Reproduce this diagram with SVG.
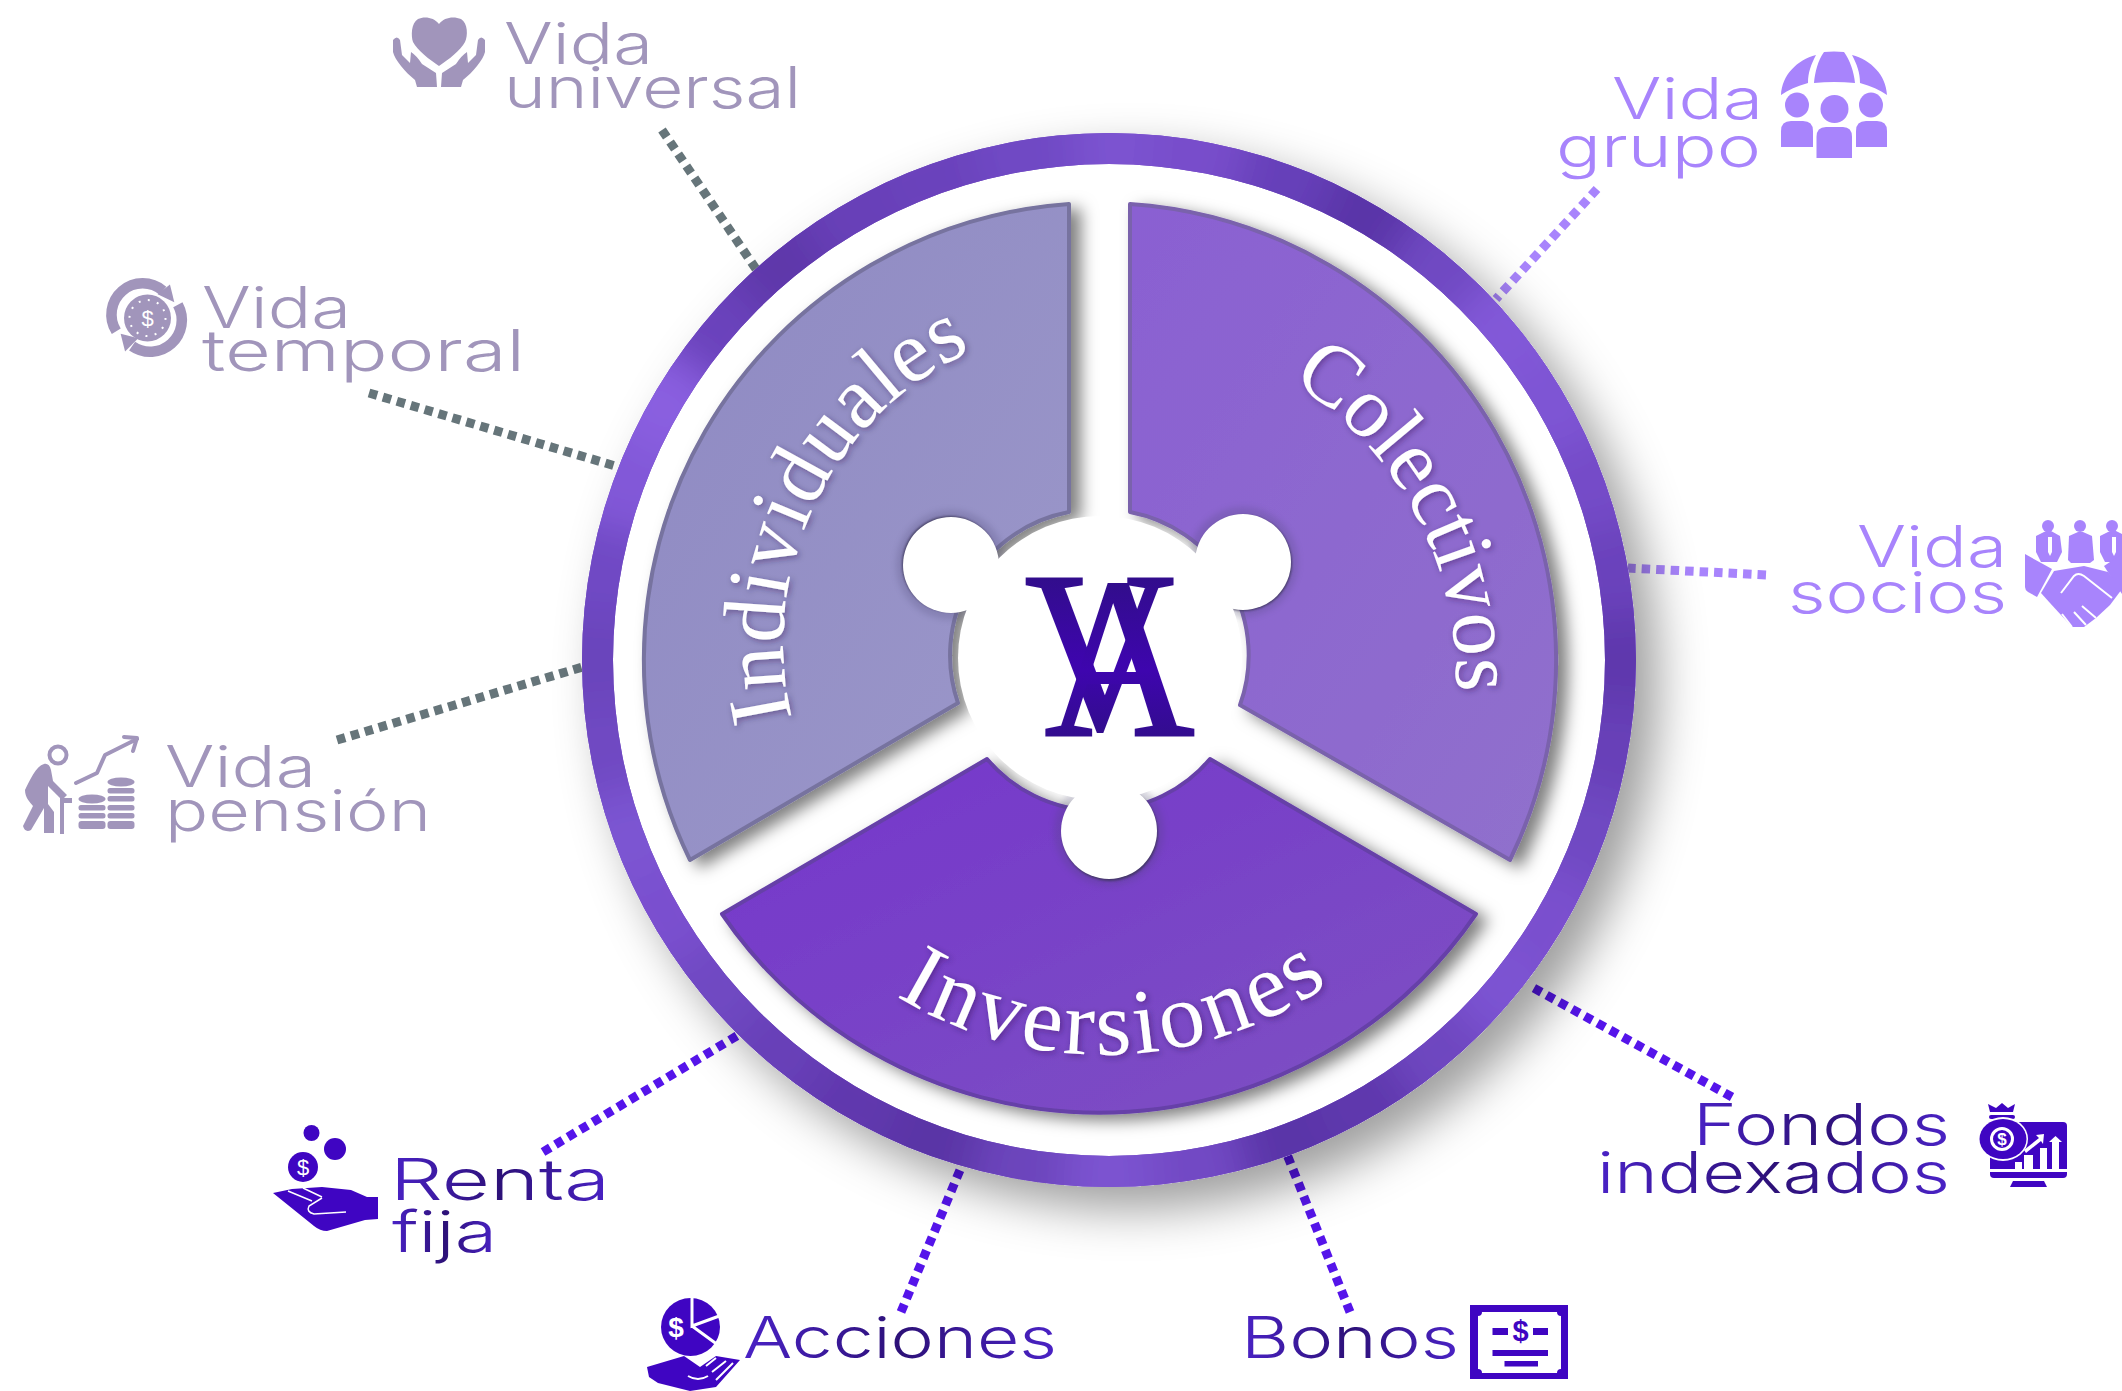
<svg xmlns="http://www.w3.org/2000/svg" xmlns:xlink="http://www.w3.org/1999/xlink" width="2122" height="1391" viewBox="0 0 2122 1391">
<style>
.lbl{font-family:"Inter","Liberation Sans",sans-serif;font-weight:300;font-size:57px}
.g1{fill:#a195bb}.g2{fill:#a884fc}.g3{fill:url(#tg)}
.i1{fill:#a195bb}.i2{fill:#a884fc}.i3{fill:#3f05c2}
.con{fill:none;stroke-width:9;stroke-dasharray:8.500 6}
.seg-t{font-family:"Liberation Serif",serif;font-size:88px;fill:#fff;filter:url(#ts)}
.sym{font-family:"Liberation Sans",sans-serif;fill:#fff;text-anchor:middle}
.w{fill:#fff}
.wl{fill:none;stroke:#fff}
.hole{fill:#fff}
.halo{fill:#4a4470;opacity:.22;filter:url(#b3)}
.edge{fill:#3a3656;opacity:.8;filter:url(#b1)}
.va{font-family:"Liberation Serif",serif;font-size:228px;text-anchor:middle;fill:url(#vag);stroke:url(#vag);stroke-width:2}
</style>
<defs>
<linearGradient id="tg"><stop offset="0" stop-color="#4a22c6"/><stop offset=".5" stop-color="#2d1178"/><stop offset="1" stop-color="#4a22c6"/></linearGradient>
<linearGradient id="vag" x1="0" y1="0" x2="0" y2="1"><stop offset="0" stop-color="#2a1278"/><stop offset=".55" stop-color="#3e05ae"/><stop offset="1" stop-color="#2a1278"/></linearGradient>
<linearGradient id="s1" x1="0" y1="0" x2="1" y2="1"><stop offset="0" stop-color="#8e89c2"/><stop offset="1" stop-color="#9c98ca"/></linearGradient>
<linearGradient id="s2" x1="0" y1="0" x2="1" y2="1"><stop offset="0" stop-color="#8a60d2"/><stop offset="1" stop-color="#9070cc"/></linearGradient>
<linearGradient id="s3" x1="0" y1="0" x2="1" y2="1"><stop offset="0" stop-color="#7535cc"/><stop offset="1" stop-color="#7d52c2"/></linearGradient>
<filter id="ds" filterUnits="userSpaceOnUse" x="400" y="0" width="1722" height="1391"><feDropShadow dx="22" dy="22" stdDeviation="24" flood-color="#000" flood-opacity=".38"/></filter>
<filter id="ss" filterUnits="userSpaceOnUse" x="500" y="100" width="1200" height="1100"><feDropShadow dx="10" dy="6" stdDeviation="8" flood-color="#000" flood-opacity=".5"/></filter>
<filter id="ts" x="-10%" y="-10%" width="120%" height="120%"><feDropShadow dx="2" dy="2" stdDeviation="3" flood-color="#201040" flood-opacity=".4"/></filter>
<filter id="rb" filterUnits="userSpaceOnUse" x="480" y="30" width="1260" height="1260"><feGaussianBlur stdDeviation="20"/></filter>
<filter id="b3" x="-20%" y="-20%" width="140%" height="140%"><feGaussianBlur stdDeviation="3"/></filter>
<filter id="b1" x="-20%" y="-20%" width="140%" height="140%"><feGaussianBlur stdDeviation="1.2"/></filter>
<clipPath id="ann"><path clip-rule="evenodd" d="M582 660a527 527 0 1 0 1054 0a527 527 0 1 0 -1054 0ZM613 660a496 496 0 1 0 992 0a496 496 0 1 0 -992 0Z"/></clipPath>
<circle id="rs" cx="1109" cy="660" r="511" fill="none" stroke-width="120" pathLength="360" stroke-dasharray="11 349"/>
<path id="p-ind" d="M792 718 A322 322 0 0 1 985 345"/>
<path id="p-col" d="M1290 381 A347 347 0 0 1 1456 690"/>
<path id="p-inv" d="M896 996 A395 395 0 0 0 1320 990"/>
</defs>

<g id="connectors" class="connectors">
<line class="con" stroke="#66757a" x1="662" y1="130" x2="756" y2="269"/>
<line class="con" stroke="#66757a" x1="369" y1="393" x2="622" y2="468"/>
<line class="con" stroke="#66757a" x1="337" y1="740" x2="586" y2="666"/>
<line class="con" stroke="#a884fc" x1="1597" y1="189" x2="1496" y2="299"/>
<line class="con" stroke="#a884fc" x1="1766" y1="575" x2="1628" y2="568"/>
<line class="con" stroke="#5514ea" x1="543" y1="1152" x2="740" y2="1034"/>
<line class="con" stroke="#5514ea" x1="901" y1="1312" x2="960" y2="1170"/>
<line class="con" stroke="#5514ea" x1="1350" y1="1312" x2="1286" y2="1152"/>
<line class="con" stroke="#5514ea" x1="1732" y1="1097" x2="1530" y2="986"/>
</g>

<g id="ring">
<circle cx="1109" cy="660" r="527" fill="#fff" filter="url(#ds)"/>
<g clip-path="url(#ann)">
<circle cx="1109" cy="660" r="511" fill="none" stroke="#6e46c0" stroke-width="60"/>
<g filter="url(#rb)">
<use xlink:href="#rs" href="#rs" stroke="#7c52d0" transform="rotate(-95 1109 660)"/>
<use xlink:href="#rs" href="#rs" stroke="#784ecb" transform="rotate(-85 1109 660)"/>
<use xlink:href="#rs" href="#rs" stroke="#6640b9" transform="rotate(-75 1109 660)"/>
<use xlink:href="#rs" href="#rs" stroke="#5a34a8" transform="rotate(-65 1109 660)"/>
<use xlink:href="#rs" href="#rs" stroke="#7048c2" transform="rotate(-55 1109 660)"/>
<use xlink:href="#rs" href="#rs" stroke="#8258d8" transform="rotate(-45 1109 660)"/>
<use xlink:href="#rs" href="#rs" stroke="#7e55d4" transform="rotate(-35 1109 660)"/>
<use xlink:href="#rs" href="#rs" stroke="#744cc8" transform="rotate(-25 1109 660)"/>
<use xlink:href="#rs" href="#rs" stroke="#6a43bc" transform="rotate(-15 1109 660)"/>
<use xlink:href="#rs" href="#rs" stroke="#5f38ad" transform="rotate(-5 1109 660)"/>
<use xlink:href="#rs" href="#rs" stroke="#6840b8" transform="rotate(5 1109 660)"/>
<use xlink:href="#rs" href="#rs" stroke="#7048c2" transform="rotate(15 1109 660)"/>
<use xlink:href="#rs" href="#rs" stroke="#7a50ce" transform="rotate(25 1109 660)"/>
<use xlink:href="#rs" href="#rs" stroke="#7c52d2" transform="rotate(35 1109 660)"/>
<use xlink:href="#rs" href="#rs" stroke="#6e46c0" transform="rotate(45 1109 660)"/>
<use xlink:href="#rs" href="#rs" stroke="#5f39ad" transform="rotate(55 1109 660)"/>
<use xlink:href="#rs" href="#rs" stroke="#5a35a8" transform="rotate(65 1109 660)"/>
<use xlink:href="#rs" href="#rs" stroke="#7248c4" transform="rotate(75 1109 660)"/>
<use xlink:href="#rs" href="#rs" stroke="#7c53d0" transform="rotate(85 1109 660)"/>
<use xlink:href="#rs" href="#rs" stroke="#6c44bc" transform="rotate(95 1109 660)"/>
<use xlink:href="#rs" href="#rs" stroke="#5a34a6" transform="rotate(105 1109 660)"/>
<use xlink:href="#rs" href="#rs" stroke="#6038ae" transform="rotate(115 1109 660)"/>
<use xlink:href="#rs" href="#rs" stroke="#6840b8" transform="rotate(125 1109 660)"/>
<use xlink:href="#rs" href="#rs" stroke="#7048c2" transform="rotate(135 1109 660)"/>
<use xlink:href="#rs" href="#rs" stroke="#7a50cf" transform="rotate(145 1109 660)"/>
<use xlink:href="#rs" href="#rs" stroke="#7c54d2" transform="rotate(155 1109 660)"/>
<use xlink:href="#rs" href="#rs" stroke="#7048c2" transform="rotate(165 1109 660)"/>
<use xlink:href="#rs" href="#rs" stroke="#6b45bc" transform="rotate(175 1109 660)"/>
<use xlink:href="#rs" href="#rs" stroke="#7048c4" transform="rotate(185 1109 660)"/>
<use xlink:href="#rs" href="#rs" stroke="#8258d8" transform="rotate(195 1109 660)"/>
<use xlink:href="#rs" href="#rs" stroke="#8a5ee0" transform="rotate(205 1109 660)"/>
<use xlink:href="#rs" href="#rs" stroke="#6a42bc" transform="rotate(215 1109 660)"/>
<use xlink:href="#rs" href="#rs" stroke="#5e38aa" transform="rotate(225 1109 660)"/>
<use xlink:href="#rs" href="#rs" stroke="#6840b8" transform="rotate(235 1109 660)"/>
<use xlink:href="#rs" href="#rs" stroke="#6a42bc" transform="rotate(245 1109 660)"/>
<use xlink:href="#rs" href="#rs" stroke="#7048c4" transform="rotate(255 1109 660)"/>
</g>
</g>
</g>

<g id="segment-individuales">
<path filter="url(#ss)" fill="url(#s1)" stroke="#77739f" stroke-width="4" stroke-linejoin="round" d="M1069 204V512A146 146 0 0 0 958 703L690 860A457 457 0 0 1 1069 204Z"/>
<text class="seg-t" letter-spacing=".700"><textPath xlink:href="#p-ind" href="#p-ind">Individuales</textPath></text>
</g>
<g id="segment-colectivos">
<path filter="url(#ss)" fill="url(#s2)" stroke="#7a62ac" stroke-width="4" stroke-linejoin="round" d="M1130 204A457 457 0 0 1 1510 860L1240 705A146 146 0 0 0 1130 512Z"/>
<text class="seg-t" style="font-size:87px" letter-spacing="-.300"><textPath xlink:href="#p-col" href="#p-col">Colectivos</textPath></text>
</g>
<g id="segment-inversiones">
<path filter="url(#ss)" fill="url(#s3)" stroke="#6640a8" stroke-width="4" stroke-linejoin="round" d="M722 914L987 759A146 146 0 0 0 1210 759L1476 914A457 457 0 0 1 722 914Z"/>
<text class="seg-t" style="font-size:92px" letter-spacing="3.400"><textPath xlink:href="#p-inv" href="#p-inv">Inversiones</textPath></text>
</g>

<g id="hub">
<circle class="halo" cx="951" cy="565" r="55"/><circle class="edge" cx="950" cy="564" r="48"/><circle class="hole" cx="951" cy="565" r="48"/>
<circle class="halo" cx="1243" cy="562" r="55"/><circle class="edge" cx="1244" cy="563" r="48"/>
<circle class="halo" cx="1109" cy="831" r="55"/><circle class="edge" cx="1110" cy="833" r="48"/>
<circle class="hole" cx="1243" cy="562" r="48"/><circle class="hole" cx="1109" cy="831" r="48"/>
<circle class="hole" cx="1100" cy="658" r="142"/>
<g id="logo-va">
<text class="va" transform="translate(1099.500 729) scale(.915 1)">V</text>
<text class="va" transform="translate(1119.500 735) scale(.915 1)">A</text>
</g>
</g>

<g id="node-vida-universal">
<g class="i1">
<path d="M439 24C434 17 424 16 418 19C411 23 411 36 413 42C417 50 430 60 439 66C448 60 461 50 465 42C468 36 468 23 461 19C454 16 444 17 439 24Z"/>
<path d="M393 40Q397 35 400 40L402 55L410 63L411 52Q417 56 422 64L436 73L437 87H417L415 80C405 72 395 60 393 52Z"/>
<path d="M393 40Q397 35 400 40L402 55L410 63L411 52Q417 56 422 64L436 73L437 87H417L415 80C405 72 395 60 393 52Z" transform="matrix(-1 0 0 1 878 0)"/>
</g>
<text class="lbl g1" x="504" y="64" textLength="149" lengthAdjust="spacingAndGlyphs">Vida</text>
<text class="lbl g1" x="504" y="108" textLength="297" lengthAdjust="spacingAndGlyphs">universal</text>
</g>

<g id="node-vida-temporal">
<g class="i1">
<g transform="translate(147.500 318) scale(.88) translate(-147.500 -318)">
<path d="M112 333A35.500 35.500 0 0 1 165 287" fill="none" stroke="#a195bb" stroke-width="12"/>
<path d="M182 303A36 36 0 0 1 130 350" fill="none" stroke="#a195bb" stroke-width="12"/>
<path d="M173 280L178 300L159 291Z"/>
<path d="M117 336L122 356L137 341Z"/>
</g>
<circle cx="147.500" cy="318" r="23.500"/>
</g>
<circle cx="147.500" cy="318" r="18" fill="none" stroke="#fff" stroke-width="2" stroke-dasharray="2 7.400"/>
<text class="sym" x="147.500" y="326" font-size="22">$</text>
<text class="lbl g1" x="202" y="328" textLength="149" lengthAdjust="spacingAndGlyphs">Vida</text>
<text class="lbl g1" x="202" y="371" textLength="323" lengthAdjust="spacingAndGlyphs">temporal</text>
</g>

<g id="node-vida-pension">
<circle cx="58" cy="755" r="8.500" fill="none" stroke="#a195bb" stroke-width="4"/>
<g class="i1">
<path d="M44 764C36 766 30 780 25 790C25 798 30 802 33 806L23 826Q25 833 31 830L44 808V833H54V812L48 804V786L62 800L67 795L53 781L51 770C50 765 47 763 44 764Z"/>
<rect x="60" y="798" width="4" height="36"/>
<path d="M60 798H72V803H60Z"/>
<path d="M76 783L97 773L105 755L137 739M124 737L137 738L133 751" fill="none" stroke="#a195bb" stroke-width="4" stroke-linecap="round" stroke-linejoin="round"/>
<ellipse cx="92" cy="799" rx="13.500" ry="4.500"/>
<rect x="78.500" y="805" width="27" height="5.500" rx="2.500"/><rect x="78.500" y="813" width="27" height="5.500" rx="2.500"/><rect x="78.500" y="821" width="27" height="8" rx="3"/>
<ellipse cx="121" cy="782" rx="13.500" ry="4.500"/>
<rect x="107.500" y="788" width="27" height="5.500" rx="2.500"/><rect x="107.500" y="796" width="27" height="5.500" rx="2.500"/><rect x="107.500" y="805" width="27" height="5.500" rx="2.500"/><rect x="107.500" y="813" width="27" height="5.500" rx="2.500"/><rect x="107.500" y="821" width="27" height="8" rx="3"/>
</g>
<text class="lbl g1" x="165" y="787" textLength="151" lengthAdjust="spacingAndGlyphs">Vida</text>
<text class="lbl g1" x="165" y="831" textLength="266" lengthAdjust="spacingAndGlyphs">pensión</text>
</g>

<g id="node-vida-grupo">
<g class="i2">
<path d="M1781 95C1782 75 1797 60 1816 55C1811 65 1808 72 1808 83C1797 86 1788 90 1781 95Z"/>
<path d="M1824 52Q1834 51 1844 52C1850 60 1854 72 1855 83Q1834 81 1814 83C1815 72 1818 60 1824 52Z"/>
<path d="M1781 95C1782 75 1797 60 1816 55C1811 65 1808 72 1808 83C1797 86 1788 90 1781 95Z" transform="matrix(-1 0 0 1 3668 0)"/>
<ellipse cx="1797" cy="105" rx="12" ry="12.500"/>
<ellipse cx="1834.500" cy="109" rx="14" ry="14"/>
<ellipse cx="1871" cy="105" rx="12" ry="12.500"/>
<path d="M1781 147V131Q1781 121 1791 121H1803Q1813 121 1813 131V147Z"/>
<path d="M1816.500 158V137Q1816.500 127 1826 127H1843Q1852 127 1852 137V158Z"/>
<path d="M1856 147V131Q1856 121 1866 121H1877Q1887 121 1887 131V147Z"/>
</g>
<text class="lbl g2" x="1612" y="119" textLength="151" lengthAdjust="spacingAndGlyphs">Vida</text>
<text class="lbl g2" x="1556" y="167" textLength="205" lengthAdjust="spacingAndGlyphs">grupo</text>
</g>

<g id="node-vida-socios">
<g class="i2">
<circle cx="2048" cy="526" r="6"/><circle cx="2080" cy="526" r="6"/><circle cx="2112" cy="526" r="6"/>
<path d="M2036 536L2046 531H2051L2060 536L2062 552L2057 562H2041L2036 552Z"/>
<path d="M2069 536L2078 532H2083L2092 536L2094 560L2090 563H2071L2068 560Z"/>
<path d="M2100 536L2110 531H2116L2122 534V562H2105L2100 552Z"/>
<path d="M2025 554L2052 569L2037 597L2028 592Q2025 590 2025 587Z"/>
<path d="M2122 554L2104 566L2122 594Z"/>
<path d="M2054 571L2084 566L2108 572L2122 589L2110 605L2096 618L2084 627H2072L2050 603L2041 593Z"/>
</g>
<path d="M2048 537V552L2050 556L2052 552V537M2112 537V552L2114 556L2116 552V537" fill="#fff"/>
<path class="wl" stroke-width="2" d="M2061 593L2074 576Q2078 572 2084 576L2112 598M2096 618L2082 606M2086 625L2074 612M2072 627L2062 614"/>
<text class="lbl g2" x="1857" y="567" textLength="150" lengthAdjust="spacingAndGlyphs">Vida</text>
<text class="lbl g2" x="1788" y="613" textLength="219" lengthAdjust="spacingAndGlyphs">socios</text>
</g>

<g id="node-renta-fija">
<g class="i3">
<circle cx="311.500" cy="1133" r="8"/><circle cx="335" cy="1149" r="11"/><circle cx="303" cy="1167" r="15"/>
<path d="M273 1193L292 1189L322 1187L351 1190L367 1197H378V1219L365 1220L327 1231Q320 1231 314 1226Z"/>
</g>
<text class="sym" x="303" y="1175" font-size="22" font-weight="300">$</text>
<path class="wl" stroke-width="1.500" d="M346 1212L314 1214Q306 1212 309 1206L322 1198M288 1191L312 1201M303 1188L322 1197"/>
<text class="lbl g3" x="390" y="1200" textLength="220" lengthAdjust="spacingAndGlyphs">Renta</text>
<text class="lbl g3" x="392" y="1252" textLength="105" lengthAdjust="spacingAndGlyphs">fija</text>
</g>

<g id="node-acciones">
<g class="i3">
<ellipse cx="690.500" cy="1327" rx="29.500" ry="29"/>
<path d="M647 1367L684 1356L700 1367L716 1356L740 1360L716 1387L690 1391L658 1383L649 1377Z"/>
</g>
<path class="wl" stroke-width="3" d="M692 1296V1326L722 1315M692 1326L718 1345"/>
<path class="wl" stroke-width="2" d="M706 1366L716 1358M712 1372L726 1361M716 1380L733 1363M688 1376Q698 1382 708 1376"/>
<text class="sym" x="676" y="1337" font-size="28" font-weight="700">$</text>
<text class="lbl g3" x="743" y="1358" textLength="314" lengthAdjust="spacingAndGlyphs">Acciones</text>
</g>

<g id="node-bonos">
<rect class="i3" x="1470" y="1305" width="98" height="74"/>
<path class="w" d="M1482 1312H1557Q1557 1316 1561 1316V1369Q1557 1369 1557 1373H1482Q1482 1369 1478 1369V1316Q1482 1316 1482 1312Z"/>
<g class="i3">
<rect x="1492.500" y="1328" width="15.500" height="7"/><rect x="1533" y="1328" width="15" height="7"/>
<rect x="1492.500" y="1350" width="55.500" height="6"/><rect x="1504.500" y="1361" width="33.500" height="5.500"/>
</g>
<text class="sym" x="1520.500" y="1341" font-size="29" font-weight="700" style="fill:#3f05c2">$</text>
<text class="lbl g3" x="1241" y="1358" textLength="218" lengthAdjust="spacingAndGlyphs">Bonos</text>
</g>

<g id="node-fondos-indexados">
<g class="i3">
<path d="M1990 1122H2063Q2067 1122 2067 1126V1169H1990Z"/>
<path d="M1990 1172H2067V1174Q2067 1178 2063 1178H1994Q1990 1178 1990 1174Z"/>
<path d="M2013 1181H2044L2047 1187H2010Z"/>
<path d="M1988 1104L1996 1108L2002 1103L2008 1108L2015 1104L2013 1112H1990Z"/>
<rect x="1989" y="1115" width="26" height="4" rx="2"/>
</g>
<ellipse cx="2003" cy="1139" rx="25" ry="22" fill="#fff"/>
<ellipse class="i3" cx="2003" cy="1139" rx="23.500" ry="20"/>
<circle cx="2002" cy="1139" r="10.500" fill="none" stroke="#fff" stroke-width="3"/>
<text class="sym" x="2002" y="1145" font-size="17" font-weight="700">$</text>
<g class="w">
<rect x="2015" y="1162" width="7" height="7"/><rect x="2024" y="1155" width="9" height="14"/><rect x="2040" y="1148" width="7" height="21"/><rect x="2052" y="1142" width="7" height="27"/>
<path d="M2049 1142L2055.500 1136L2062 1142Z"/>
<path d="M2044 1134L2036 1135L2039 1138L2024 1150L2026 1153L2041 1141L2043 1144Z"/>
</g>
<text class="lbl g3" x="1693" y="1145" textLength="257" lengthAdjust="spacingAndGlyphs">Fondos</text>
<text class="lbl g3" x="1597" y="1193" textLength="353" lengthAdjust="spacingAndGlyphs">indexados</text>
</g>
</svg>
